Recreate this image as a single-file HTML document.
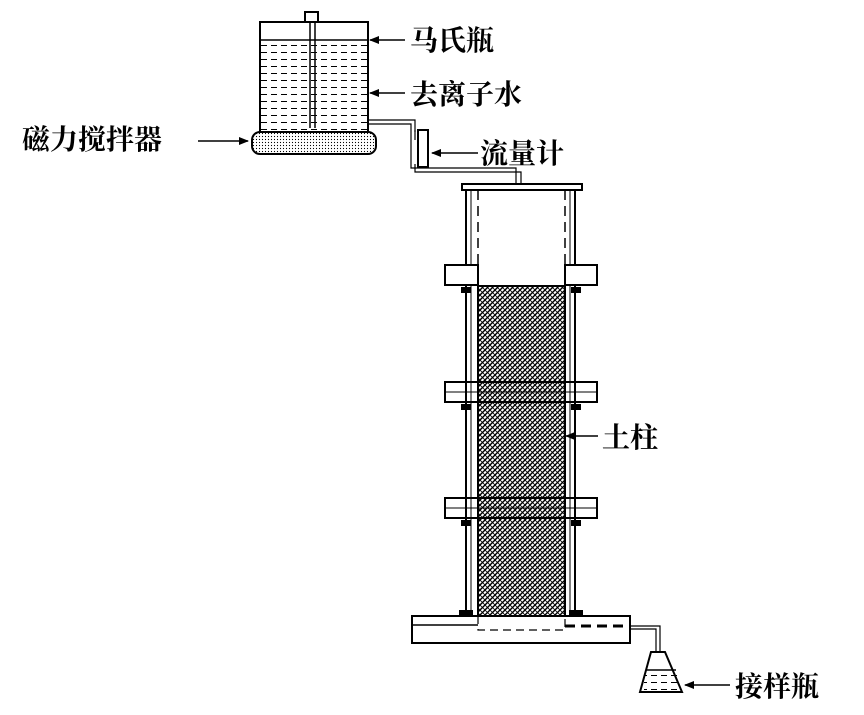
<!DOCTYPE html>
<html><head><meta charset="utf-8"><style>
body{margin:0;background:#fff;}
svg{display:block}
text{font-family:"Liberation Serif","Noto Serif CJK SC",serif;font-weight:bold;font-size:28px;fill:#000}
</style></head><body>
<svg width="864" height="715" viewBox="0 0 864 715" xmlns="http://www.w3.org/2000/svg">
<defs>
<pattern id="h" width="5" height="5" patternUnits="userSpaceOnUse">
<path d="M0 5L5 0M-1 1L1 -1M4 6L6 4" stroke="#000" stroke-width="1.4"/>
<path d="M0 0L5 5" stroke="#000" stroke-width="0.8"/>
</pattern>
<pattern id="dots" width="3" height="3" patternUnits="userSpaceOnUse"><circle cx="1.5" cy="1.5" r="0.6" fill="#000"/></pattern>
<pattern id="w" width="10" height="7" patternUnits="userSpaceOnUse"><path d="M1 3.5H7" stroke="#000" stroke-width="1"/></pattern>
<marker id="a" markerWidth="10" markerHeight="8" refX="9" refY="4" orient="auto" markerUnits="userSpaceOnUse"><path d="M0 0L10 4L0 8z" fill="#000"/></marker>
</defs>
<g stroke="#000" fill="none" stroke-width="2">
<rect x="305" y="12" width="13" height="10"/>
<rect x="260" y="22" width="108" height="110"/>
<rect x="261" y="40" width="106" height="91" fill="url(#w)" stroke="none"/>
<line x1="260" y1="40" x2="368" y2="40" stroke-width="1.5"/>
<line x1="310" y1="22" x2="310" y2="128" stroke-width="1.5"/>
<line x1="315" y1="22" x2="315" y2="128" stroke-width="1.5"/>
<rect x="252" y="132" width="124" height="22" rx="8" fill="url(#dots)"/>
<path d="M368 120H415V132" stroke-width="1.2"/><path d="M368 124H411V132" stroke-width="1.2"/>
<rect x="418" y="130" width="10" height="37" fill="#fff"/>
<path d="M415 130V140M411 132V168H516V184M415 164V172H521V184" stroke-width="1.2"/>
<rect x="462" y="184" width="120" height="6" fill="#fff"/>
<line x1="466" y1="190" x2="466" y2="616"/><line x1="471" y1="190" x2="471" y2="616" stroke-width="1"/>
<line x1="575" y1="190" x2="575" y2="616"/><line x1="570" y1="190" x2="570" y2="616" stroke-width="1"/>
<line x1="478" y1="190" x2="478" y2="286" stroke-dasharray="10 6" stroke-width="1.5"/>
<line x1="565" y1="190" x2="565" y2="286" stroke-dasharray="10 6" stroke-width="1.5"/>
<rect x="478" y="286" width="87" height="330" fill="url(#h)"/>
<g fill="#fff">
<rect x="445" y="265" width="33" height="20"/><rect x="565" y="265" width="32" height="20"/>
<rect x="445" y="382" width="152" height="20" fill="none"/><line x1="445" y1="392" x2="597" y2="392" stroke-width="1"/>
<rect x="445" y="498" width="152" height="20" fill="none"/><line x1="445" y1="508" x2="597" y2="508" stroke-width="1"/>
</g>
<g fill="#000" stroke="none">
<rect x="461" y="287" width="10" height="6"/><rect x="571" y="287" width="10" height="6"/>
<rect x="461" y="404" width="10" height="6"/><rect x="571" y="404" width="10" height="6"/>
<rect x="461" y="520" width="10" height="6"/><rect x="571" y="520" width="10" height="6"/>
<rect x="459" y="610" width="14" height="6"/><rect x="569" y="610" width="14" height="6"/>
</g>
<rect x="412" y="616" width="218" height="27"/>
<line x1="412" y1="625" x2="478" y2="625" stroke-width="1.5"/>
<line x1="565" y1="626" x2="630" y2="626" stroke-width="3" stroke-dasharray="10 6"/>
<path d="M478 616V630H565V616" stroke-dasharray="8 5" stroke-width="1.2"/>
<path d="M630 626H660V652M630 629H656V652" stroke-width="1.2"/>
<path d="M651 652H665L682 692H640Z" fill="#fff"/>
<rect x="644" y="670" width="34" height="20" fill="url(#w)" stroke="none"/>
<line x1="646" y1="670" x2="676" y2="670" stroke-width="1.5"/>
<g stroke-width="1.6">
<line x1="405" y1="40" x2="370" y2="40" marker-end="url(#a)"/>
<line x1="405" y1="93" x2="370" y2="93" marker-end="url(#a)"/>
<line x1="478" y1="153" x2="432" y2="153" marker-end="url(#a)"/>
<line x1="198" y1="141" x2="248" y2="141" marker-end="url(#a)"/>
<line x1="598" y1="436" x2="566" y2="436" marker-end="url(#a)"/>
<line x1="730" y1="685" x2="685" y2="685" marker-end="url(#a)"/>
</g>
</g>
<text x="410" y="50">马氏瓶</text>
<text x="410" y="104">去离子水</text>
<text x="480" y="163">流量计</text>
<text x="22" y="149">磁力搅拌器</text>
<text x="602" y="447">土柱</text>
<text x="735" y="696">接样瓶</text>
</svg>
</body></html>
